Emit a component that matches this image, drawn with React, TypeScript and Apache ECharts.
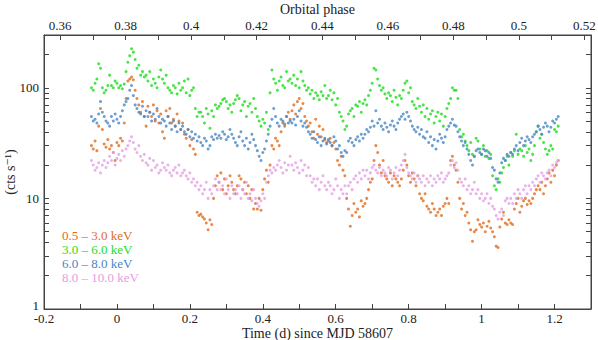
import React, { useEffect, useRef } from "react";
import * as echarts from "echarts";

// Time (d since MJD 58607) of each bin, shared by all four bands
const TIMES = [
  -0.070, -0.065, -0.060, -0.055, -0.050, -0.045, -0.040, -0.035, -0.030, -0.025,
  -0.020, -0.015, -0.010, -0.005, 0.000, 0.005, 0.010, 0.015, 0.020, 0.025,
  0.030, 0.035, 0.040, 0.045, 0.050, 0.055, 0.060, 0.065, 0.070, 0.075,
  0.080, 0.085, 0.090, 0.095, 0.100, 0.105, 0.110, 0.115, 0.120, 0.125,
  0.130, 0.135, 0.140, 0.145, 0.150, 0.155, 0.160, 0.165, 0.170, 0.175,
  0.180, 0.185, 0.190, 0.195, 0.200, 0.205, 0.210, 0.215, 0.220, 0.225,
  0.230, 0.235, 0.240, 0.245, 0.250, 0.255, 0.260, 0.265, 0.270, 0.275,
  0.280, 0.285, 0.290, 0.295, 0.300, 0.305, 0.310, 0.315, 0.320, 0.325,
  0.330, 0.335, 0.340, 0.345, 0.350, 0.355, 0.360, 0.365, 0.370, 0.375,
  0.380, 0.385, 0.390, 0.395, 0.400, 0.405, 0.410, 0.415, 0.420, 0.425,
  0.430, 0.435, 0.440, 0.445, 0.450, 0.455, 0.460, 0.465, 0.470, 0.475,
  0.480, 0.485, 0.490, 0.495, 0.500, 0.505, 0.510, 0.515, 0.520, 0.525,
  0.530, 0.535, 0.540, 0.545, 0.550, 0.555, 0.560, 0.565, 0.570, 0.575,
  0.580, 0.585, 0.590, 0.595, 0.600, 0.605, 0.610, 0.615, 0.620, 0.625,
  0.630, 0.635, 0.640, 0.645, 0.650, 0.655, 0.660, 0.665, 0.670, 0.675,
  0.680, 0.685, 0.690, 0.695, 0.700, 0.705, 0.710, 0.715, 0.720, 0.725,
  0.730, 0.735, 0.740, 0.745, 0.750, 0.755, 0.760, 0.765, 0.770, 0.775,
  0.780, 0.785, 0.790, 0.795, 0.800, 0.805, 0.810, 0.815, 0.820, 0.825,
  0.830, 0.835, 0.840, 0.845, 0.850, 0.855, 0.860, 0.865, 0.870, 0.875,
  0.880, 0.885, 0.890, 0.895, 0.900, 0.905, 0.910, 0.915, 0.920, 0.925,
  0.930, 0.935, 0.940, 0.945, 0.950, 0.955, 0.960, 0.965, 0.970, 0.975,
  0.980, 0.985, 0.990, 0.995, 1.000, 1.005, 1.010, 1.015, 1.020, 1.025,
  1.030, 1.035, 1.040, 1.045, 1.050, 1.055, 1.060, 1.065, 1.070, 1.075,
  1.080, 1.085, 1.090, 1.095, 1.100, 1.105, 1.110, 1.115, 1.120, 1.125,
  1.130, 1.135, 1.140, 1.145, 1.150, 1.155, 1.160, 1.165, 1.170, 1.175,
  1.180, 1.185, 1.190, 1.195, 1.200, 1.205, 1.210,
];

// 0.5 - 3.0 keV
const SOFT = [
  30, 28, 33, 27, 45, 65, 42, 31, 29, 34,
  28, 30, 26, 22, 32, 30, 35, 33, 48, 80,
  115, 120, 125, 118, 95, 80, 70, 60, 75, 55,
  45, 68, 60, 55, 70, 50, 62, 48, 58, 40,
  35, 62, 55, 65, 48, 52, 45, 58, 50, 42,
  48, 38, 35, 42, 30, 34, 28, 25, 7.5, 7.0,
  7.2, 6.8, 6.5, 6.0, 5.2, 6.4, 5.8, 10, 13, 16,
  14, 17, 12, 15, 11, 13, 16, 14, 12, 11,
  13, 16, 15, 12, 14, 11, 13, 10, 12, 8,
  9, 8, 10, 7.8, 12, 15, 18, 14, 20, 30,
  28, 35, 33, 30, 40, 48, 45, 55, 60, 52,
  62, 70, 58, 75, 80, 65, 72, 55, 50, 45,
  48, 40, 35, 52, 38, 45, 36, 42, 34, 32,
  33, 35, 30, 32, 28, 22, 20, 24, 18, 16,
  10, 8, 5.6, 7, 9, 7.5, 8, 6.8, 9.5, 8.5,
  9, 10, 12, 14, 15, 22, 30, 26, 20, 17,
  22, 16, 15, 14, 17, 13, 16, 15, 14, 13,
  15, 18, 22, 20, 16, 14, 17, 15, 13, 16,
  11, 10, 9.5, 11, 8.5, 8, 7.5, 9, 8, 7,
  7.5, 8, 7, 8.5, 9, 10, 9, 22, 24, 20,
  18, 14, 10, 8, 9, 7, 7.5, 6, 5.2, 4.1,
  5, 5.2, 6.4, 5.8, 5.5, 6, 5, 5.6, 6.2, 5.4,
  5, 4.5, 3.7, 3.6, 5.5, 6.5, 7.5, 6, 5.8, 6.4,
  6, 5.8, 8, 9, 10, 7.5, 8.5, 9.5, 10, 8.8,
  9.5, 9, 10, 11, 12, 13, 12, 14, 11, 13,
  15, 17, 14, 18, 16, 20, 22,
];

// 3.0 - 6.0 keV
const MEDIUM = [
  100, 95, 110, 120, 165, 150, 100, 90, 95, 105,
  130, 105, 100, 115, 110, 100, 105, 98, 108, 140,
  170, 195, 225, 210, 180, 150, 160, 130, 140, 125,
  130, 115, 140, 105, 120, 110, 100, 125, 145, 120,
  110, 130, 100, 95, 90, 105, 100, 88, 110, 95,
  100, 115, 90, 120, 85, 95, 100, 65, 55, 60,
  60, 55, 48, 65, 58, 43, 62, 55, 70, 65,
  68, 72, 78, 80, 75, 65, 70, 60, 72, 78,
  85, 80, 62, 70, 75, 55, 68, 72, 60, 80,
  65, 55, 50, 45, 52, 48, 60, 42, 90, 145,
  120, 110, 95, 115, 125, 105, 100, 140, 115, 120,
  110, 130, 105, 120, 100, 140, 115, 105, 95, 100,
  88, 95, 80, 90, 85, 78, 92, 85, 105, 80,
  85, 95, 78, 90, 70, 80, 60, 55, 50, 42,
  45, 58, 62, 65, 55, 70, 68, 75, 60, 72,
  78, 70, 85, 95, 110, 150, 145, 120, 105, 95,
  100, 88, 80, 90, 85, 75, 95, 82, 70, 85,
  80, 95, 110, 115, 90, 100, 75, 70, 65, 80,
  68, 60, 70, 55, 65, 52, 58, 62, 48, 55,
  60, 50, 58, 45, 55, 65, 72, 80, 100, 95,
  95, 80, 42, 36, 38, 33, 30, 27, 32, 25,
  24, 35, 33, 28, 25, 30, 24, 27, 23, 25,
  16, 13, 12, 15, 14, 17, 19, 22, 24, 20,
  26, 24, 27, 38, 25, 28, 27, 24, 30, 26,
  28, 22, 25, 30, 40, 45, 35, 38, 32, 28,
  25, 27, 30, 28, 42, 40, 45,
];

// 6.0 - 8.0 keV
const HARD = [
  55, 50, 52, 48, 58, 75, 60, 55, 50, 48,
  45, 55, 50, 58, 52, 48, 55, 62, 70, 75,
  80, 95, 105, 85, 70, 65, 60, 58, 68, 55,
  62, 55, 60, 50, 58, 52, 65, 55, 48, 52,
  50, 45, 55, 48, 42, 50, 45, 40, 48, 42,
  45, 40, 38, 42, 36, 40, 35, 38, 33, 36,
  32, 30, 35, 33, 28, 30, 36, 34, 38, 35,
  37, 35, 40, 38, 34, 36, 42, 38, 35, 32,
  30, 36, 40, 33, 30, 35, 28, 32, 38, 34,
  30, 27, 24, 22, 26, 28, 33, 38, 45, 52,
  65, 55, 48, 45, 52, 50, 47, 55, 48, 50,
  48, 52, 46, 55, 62, 50, 45, 48, 44, 40,
  38, 35, 40, 34, 32, 36, 30, 33, 35, 31,
  34, 32, 30, 36, 33, 28, 30, 26, 24, 27,
  26, 33, 35, 32, 30, 34, 36, 33, 38, 35,
  38, 42, 40, 44, 50, 45, 62, 48, 52, 45,
  42, 48, 44, 40, 46, 50, 45, 42, 48, 52,
  55, 58, 52, 60, 55, 50, 45, 42, 40, 44,
  38, 42, 36, 35, 40, 32, 36, 30, 34, 28,
  33, 38, 35, 32, 36, 42, 45, 48, 52, 46,
  45, 40, 36, 33, 30, 32, 28, 25, 22, 20,
  24, 27, 28, 26, 25, 28, 27, 24, 26, 23,
  19, 18, 15, 14, 17, 21, 23, 22, 25, 24,
  26, 25, 28, 30, 27, 32, 35, 30, 33, 36,
  34, 32, 36, 38, 40, 45, 42, 38, 44, 48,
  45, 40, 44, 50, 48, 52, 55,
];

// 8.0 - 10.0 keV
const VERY_HARD = [
  22, 20, 18, 19, 21, 17, 20, 22, 19, 21,
  24, 22, 26, 20, 23, 25, 22, 27, 24, 28,
  30, 33, 36, 32, 28, 26, 30, 24, 22, 25,
  21, 20, 23, 18, 22, 19, 20, 17, 18, 21,
  19, 18, 20, 17, 16, 18, 19, 17, 20, 16,
  17, 18, 16, 15, 17, 14, 15, 13, 14, 12,
  13, 11, 12, 14, 10, 12, 11, 13, 15, 12,
  14, 12, 13, 11, 15, 12, 10, 13, 11, 12,
  11, 13, 10, 12, 11, 14, 10, 11, 9.5, 12,
  10, 9, 8.5, 9.5, 11, 10, 14, 16, 18, 17,
  19, 18, 20, 22, 19, 17, 21, 18, 20, 24,
  20, 18, 21, 19, 17, 22, 18, 20, 16, 19,
  16, 14, 15, 13, 15, 12, 14, 16, 13, 12,
  14, 13, 11, 12, 15, 13, 10, 12, 11, 13,
  11, 13, 14, 12, 15, 16, 14, 17, 15, 18,
  16, 18, 15, 17, 19, 20, 18, 17, 19, 16,
  18, 17, 16, 19, 18, 15, 17, 19, 16, 18,
  20, 22, 25, 19, 17, 16, 15, 17, 14, 16,
  15, 14, 16, 13, 15, 14, 16, 13, 15, 14,
  16, 15, 17, 14, 15, 16, 17, 20, 22, 19,
  21, 18, 15, 14, 13, 15, 12, 13, 11, 12,
  14, 11, 12, 10, 11, 9.5, 10, 11, 9, 10,
  8.5, 8, 7, 6.5, 7.5, 8, 7, 9.5, 10, 9,
  10, 9, 11, 10, 12, 11, 10, 12, 13, 11,
  13, 12, 14, 13, 15, 16, 14, 17, 16, 15,
  17, 18, 16, 20, 19, 21, 22,
];

const BAND_NAMES = ["0.5 – 3.0 keV", "3.0 – 6.0 keV", "6.0 – 8.0 keV", "8.0 – 10.0 keV"];
const BAND_VALUES = [SOFT, MEDIUM, HARD, VERY_HARD];
const BAND_COLORS = ["#e06c1e", "#1edc1e", "#4a86c4", "#e4a0e4"];

const TIME_LABELS = [-0.2, 0, 0.2, 0.4, 0.6, 0.8, 1, 1.2];
const PHASE_TICKS = [0.36, 0.37, 0.38, 0.39, 0.4, 0.41, 0.42, 0.43, 0.44, 0.45, 0.46, 0.47, 0.48, 0.49, 0.5, 0.51, 0.52];
const PHASE_LABELS = [0.36, 0.38, 0.4, 0.42, 0.44, 0.46, 0.48, 0.5, 0.52];
const RATE_TICKS = [1, 2, 3, 4, 5, 6, 7, 8, 9, 10, 20, 30, 40, 50, 60, 70, 80, 90, 100, 200, 300];
const RATE_LABELS = [1, 10, 100];

const PHASE_MIN = 0.3551;
const PHASE_MAX = 0.5220;

const FONT = '"Liberation Serif", "DejaVu Serif", serif';

export default function App() {
  const ref = useRef<HTMLDivElement>(null);

  useEffect(() => {
    if (!ref.current) return;
    const chart = echarts.init(ref.current, null, { renderer: "svg" });

    const mkLine = () => ({ show: true, onZero: false, lineStyle: { color: "#444", width: 1 } });
    const tickStyle = { color: "#444", width: 1 };
    const labelStyle = { color: "#222", fontFamily: FONT, fontSize: 13 };
    const nameStyle = { color: "#222", fontFamily: FONT, fontSize: 14 };

    const option: any = {
      animation: false,
      backgroundColor: "#fff",
      grid: {
        left: 44, right: 7, top: 35, bottom: 31,
        containLabel: false, outerBoundsMode: "none",
        show: true, borderColor: "#444", borderWidth: 1, backgroundColor: "transparent",
      },
      xAxis: [
        {
          type: "value",
          position: "bottom",
          min: -0.2,
          max: 1.3,
          interval: 0.1,
          name: "Time (d) since MJD 58607",
          nameLocation: "middle",
          nameGap: 17,
          nameMoveOverlap: false,
          nameTextStyle: nameStyle,
          axisLine: mkLine(),
          splitLine: { show: false },
          axisTick: { show: true, inside: true, length: 5, lineStyle: tickStyle },
          axisLabel: {
            ...labelStyle,
            margin: 3,
            showMinLabel: true,
            showMaxLabel: false,
            hideOverlap: false,
            formatter: (v: number) => {
              const hit = TIME_LABELS.find((l) => Math.abs(l - v) < 1e-6);
              return hit === undefined ? "" : String(hit);
            },
          },
        },
        {
          type: "value",
          position: "top",
          min: PHASE_MIN,
          max: PHASE_MAX,
          name: "Orbital phase",
          nameLocation: "middle",
          nameGap: 19,
          nameMoveOverlap: false,
          nameTextStyle: nameStyle,
          axisLine: mkLine(),
          splitLine: { show: false },
          axisTick: { show: true, inside: true, length: 5, lineStyle: tickStyle, customValues: PHASE_TICKS },
          axisLabel: { ...labelStyle, margin: 3, customValues: PHASE_LABELS, formatter: (v: number) => String(v) },
        },
      ],
      yAxis: [
        {
          type: "log",
          logBase: 10,
          position: "left",
          min: 1,
          max: 300,
          name: "(cts s⁻¹)",
          nameLocation: "middle",
          nameGap: 27,
          nameMoveOverlap: false,
          nameRotate: 90,
          nameTextStyle: nameStyle,
          axisLine: mkLine(),
          splitLine: { show: false },
          minorTick: { show: false },
          axisTick: { show: true, inside: true, length: 5, lineStyle: tickStyle, customValues: RATE_TICKS },
          axisLabel: {
            ...labelStyle,
            margin: 5,
            customValues: RATE_LABELS,
            formatter: (v: number) => (v === 1 ? "{one|1}" : String(v)),
            rich: { one: { ...labelStyle, padding: [0, 0, 7, 0] } },
          },
        },
        {
          type: "log",
          logBase: 10,
          position: "right",
          min: 1,
          max: 300,
          axisLine: mkLine(),
          splitLine: { show: false },
          axisTick: { show: true, inside: true, length: 5, lineStyle: tickStyle, customValues: RATE_TICKS },
          axisLabel: { show: false },
        },
      ],
      series: BAND_NAMES.map((name, k) => ({
        name,
        type: "scatter",
        xAxisIndex: 0,
        yAxisIndex: 0,
        symbol: "circle",
        symbolSize: 3,
        itemStyle: { color: BAND_COLORS[k] },
        data: TIMES.map((t, i) => [t, BAND_VALUES[k][i]]),
      })),
      graphic: BAND_NAMES.map((name, k) => ({
        type: "text",
        left: 62,
        top: 229 + k * 13.9,
        style: { text: name, fill: BAND_COLORS[k], font: `13px ${FONT}` },
      })),
    };

    chart.setOption(option);
    return () => chart.dispose();
  }, []);

  return (
    <div
      ref={ref}
      style={{ position: "fixed", left: 0, top: 0, width: 598, height: 340, background: "#fff" }}
    />
  );
}
